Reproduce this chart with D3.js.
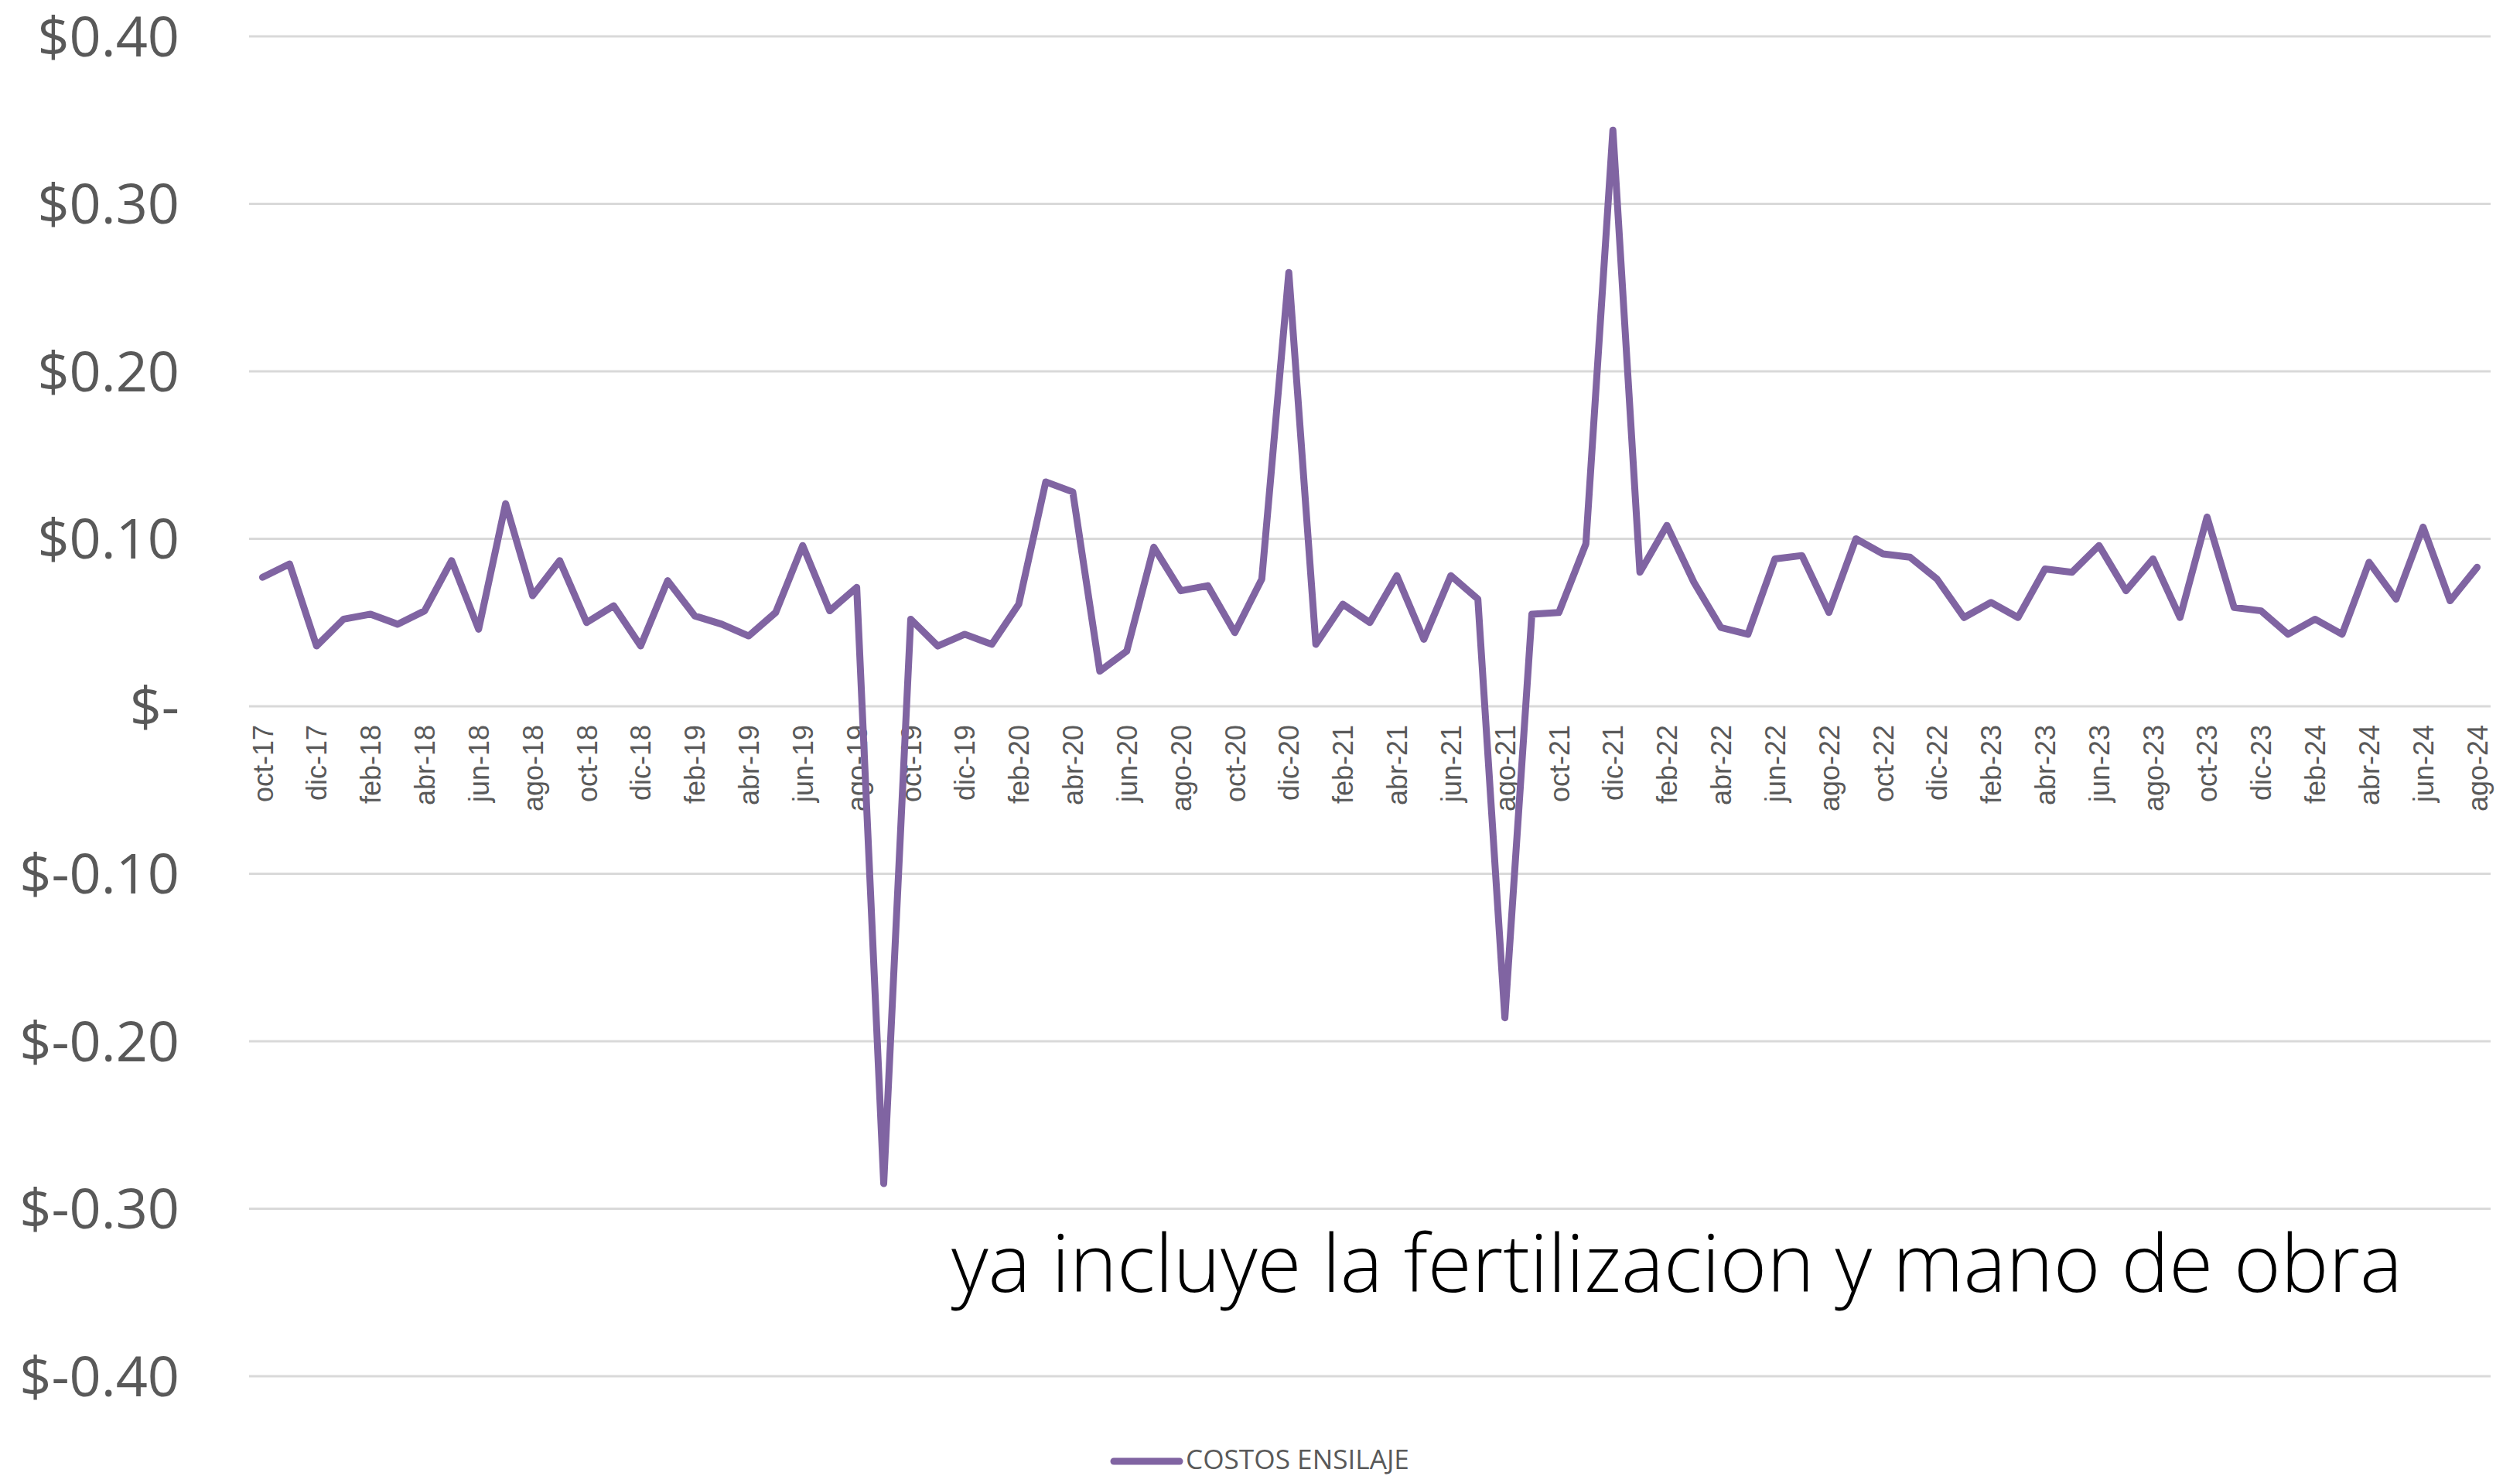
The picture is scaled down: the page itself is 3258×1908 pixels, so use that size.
<!DOCTYPE html>
<html><head><meta charset="utf-8">
<script src="https://cdn.jsdelivr.net/npm/d3@7"></script>
<style>html,body{margin:0;padding:0;background:#fff;}svg{display:block;}</style>
</head><body>
<script>
const categories = ["oct-17","nov-17","dic-17","ene-18","feb-18","mar-18","abr-18","may-18","jun-18","jul-18","ago-18","sep-18","oct-18","nov-18","dic-18","ene-19","feb-19","mar-19","abr-19","may-19","jun-19","jul-19","ago-19","sep-19","oct-19","nov-19","dic-19","ene-20","feb-20","mar-20","abr-20","may-20","jun-20","jul-20","ago-20","sep-20","oct-20","nov-20","dic-20","ene-21","feb-21","mar-21","abr-21","may-21","jun-21","jul-21","ago-21","sep-21","oct-21","nov-21","dic-21","ene-22","feb-22","mar-22","abr-22","may-22","jun-22","jul-22","ago-22","sep-22","oct-22","nov-22","dic-22","ene-23","feb-23","mar-23","abr-23","may-23","jun-23","jul-23","ago-23","sep-23","oct-23","nov-23","dic-23","ene-24","feb-24","mar-24","abr-24","may-24","jun-24","jul-24","ago-24"];
const costosEnsilaje = [0.077,0.085,0.036,0.052,0.055,0.049,0.057,0.087,0.046,0.121,0.066,0.087,0.050,0.060,0.036,0.075,0.054,0.049,0.042,0.056,0.096,0.057,0.071,-0.285,0.052,0.036,0.043,0.037,0.061,0.134,0.128,0.021,0.033,0.095,0.069,0.072,0.044,0.076,0.259,0.037,0.061,0.050,0.078,0.040,0.078,0.064,-0.186,0.055,0.056,0.097,0.344,0.080,0.108,0.074,0.047,0.043,0.088,0.090,0.056,0.100,0.091,0.089,0.076,0.053,0.062,0.053,0.082,0.080,0.096,0.069,0.088,0.053,0.113,0.059,0.057,0.043,0.052,0.043,0.086,0.064,0.107,0.063,0.083];
const yTicks = [0.40,0.30,0.20,0.10,0,-0.10,-0.20,-0.30,-0.40];
const seriesName = "COSTOS ENSILAJE";
const annotation = "ya incluye la fertilizacion y mano de obra";

const W = 3258, H = 1908;
const svg = d3.select("body").append("svg").attr("width", W).attr("height", H);

const plotLeft = 322, plotRight = 3220, plotTop = 47, plotBottom = 1779;
const x = d3.scalePoint().domain(categories).range([plotLeft, plotRight]).padding(0.5);
const y = d3.scaleLinear().domain([-0.4, 0.4]).range([plotBottom, plotTop]);

// gridlines
svg.append("g").selectAll("line").data(yTicks).join("line")
  .attr("x1", plotLeft).attr("x2", plotRight)
  .attr("y1", d => y(d)).attr("y2", d => y(d))
  .attr("stroke", "#d9d9d9").attr("stroke-width", 3);

// y axis labels
const fmt = d => {
  if (d === 0) return "$-";
  return "$" + d3.format(".2f")(d).replace("\u2212", "-");
};
const yAxis = d3.axisLeft(y).tickValues(yTicks).tickFormat(fmt).tickSize(0).tickPadding(0);
const yg = svg.append("g").attr("transform", "translate(232,0)").call(yAxis);
yg.select(".domain").remove();
yg.selectAll("text").attr("font-family", "'Open Sans', sans-serif").attr("font-size", 72)
  .attr("fill", "#595959").attr("dy", "0.35em");

// x axis labels (every other)
const xAxis = d3.axisBottom(x).tickValues(categories.filter((c, i) => i % 2 === 0)).tickSize(0).tickPadding(0);
const xg = svg.append("g").attr("transform", `translate(0,${y(0)})`).call(xAxis);
xg.select(".domain").remove();
xg.selectAll("text")
  .attr("font-family", "'Liberation Sans Narrow', 'Liberation Sans', Arial, sans-serif")
  .attr("font-size", 36).attr("fill", "#595959")
  .attr("text-anchor", "end")
  .attr("transform", "rotate(-90)")
  .attr("x", -24).attr("y", 0).attr("dy", "0.35em");

// line
const line = d3.line().x((d, i) => x(categories[i])).y(d => y(d));
svg.append("path").datum(costosEnsilaje)
  .attr("d", line).attr("fill", "none")
  .attr("stroke", "#8064a2").attr("stroke-width", 9)
  .attr("stroke-linejoin", "round").attr("stroke-linecap", "round");

// annotation
const ann = svg.append("text").attr("x", 1230).attr("y", 1670)
  .attr("font-family", "'Open Sans', sans-serif").attr("font-weight", 300)
  .attr("font-size", 100).attr("fill", "#000").text(annotation);
const aw = ann.node().getComputedTextLength();
ann.attr("font-size", 100 * 1876 / aw);

// legend
svg.append("line").attr("x1", 1440).attr("x2", 1525).attr("y1", 1889).attr("y2", 1889)
  .attr("stroke", "#8064a2").attr("stroke-width", 9).attr("stroke-linecap", "round");
const lg = svg.append("text").attr("x", 1533).attr("y", 1899)
  .attr("font-family", "'Open Sans', sans-serif").attr("font-size", 32)
  .attr("fill", "#595959").text(seriesName);
const lw = lg.node().getComputedTextLength();
lg.attr("font-size", 32 * 289 / lw);
</script>
</body></html>
